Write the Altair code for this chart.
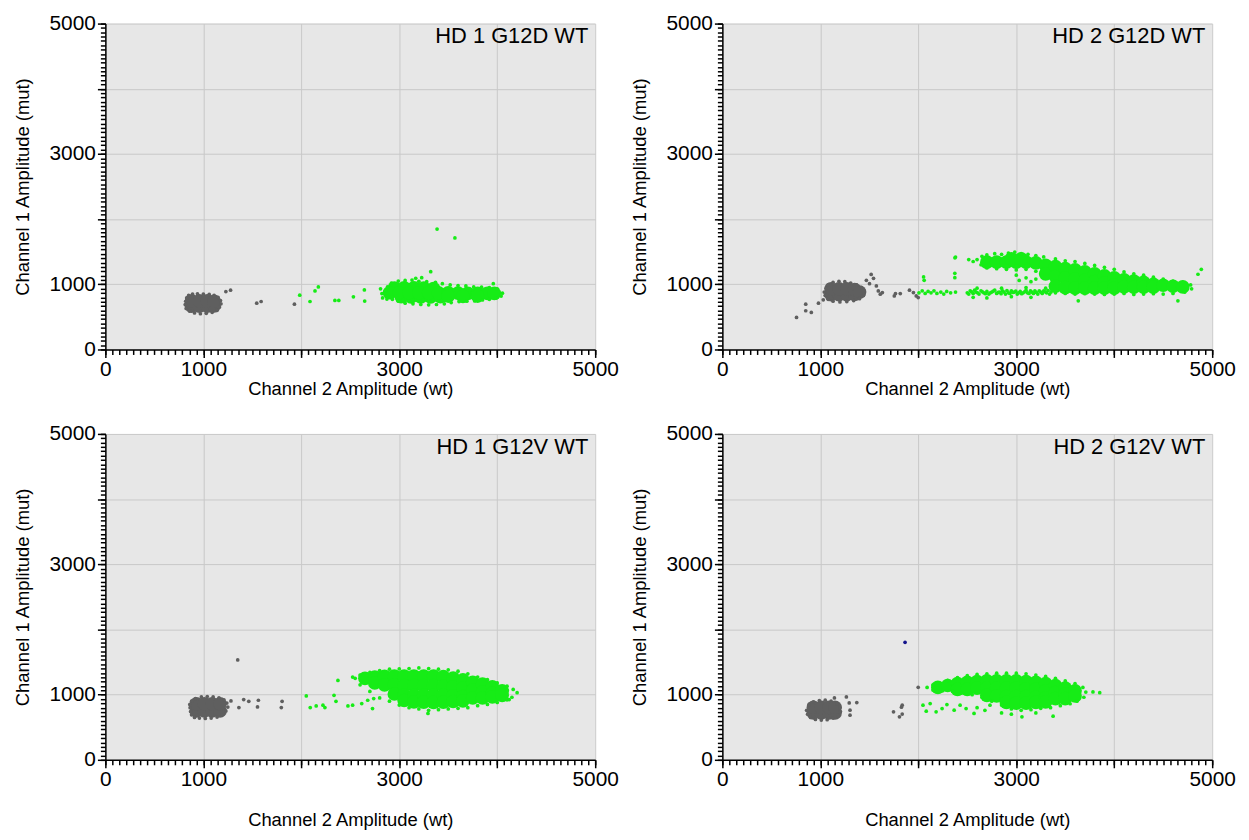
import altair as alt
import pandas as pd

FONT = "Liberation Sans"
TICK_VALUES = [0, 1000, 2000, 3000, 4000, 5000]
TICK_LABELS = [0, 1000, 3000, 5000]
X_MINOR = [round(i * 1000 / 14, 2) for i in range(71)]
Y_MINOR = [round(i * 1000 / 15, 2) for i in range(76)]

TITLES = ["HD 1 G12D WT", "HD 2 G12D WT", "HD 1 G12V WT", "HD 2 G12V WT"]
X_TITLE = "Channel 2 Amplitude (wt)"
Y_TITLE = "Channel 1 Amplitude (mut)"

# ---------------- Panel 1: HD 1 G12D WT ----------------
P1_GRAY_CORE = [(880, 665), (960, 665), (1040, 665), (1110, 670),
                (880, 745), (960, 745), (1040, 745), (1110, 740)]
P1_GRAY_DOTS = [(815, 690), (820, 740), (830, 790), (850, 830), (890, 850), (940, 855), (1000, 850),
                (1060, 845), (1110, 830), (1150, 800), (1175, 750), (1180, 700), (1165, 650), (1140, 600),
                (1090, 570), (1030, 555), (970, 548), (910, 560), (860, 590), (825, 630),
                (1230, 888), (1278, 909), (1545, 711), (1590, 736), (1930, 695)]
P1_GREEN_CORE = [(2950, 940), (3050, 945), (3150, 945), (3250, 940), (3350, 935),
                 (3020, 810), (3120, 805), (3220, 805), (3320, 805), (3420, 810),
                 (2900, 870), (3000, 870), (3100, 870), (3200, 870), (3300, 870), (3400, 870),
                 (3500, 870), (3600, 865), (3700, 860), (3800, 860), (3900, 860), (3970, 860),
                 (3500, 820), (3650, 815), (3800, 820)]
P1_GREEN_DOTS = [(2860, 900), (2880, 960), (2920, 1020), (2990, 1050), (3060, 1060), (3130, 1065),
                 (3200, 1045), (3280, 1040), (3370, 1030), (3440, 1010), (3520, 990), (3600, 980),
                 (3680, 975), (3760, 960), (3840, 955), (3920, 950), (3960, 1010), (4000, 930),
                 (4053, 863), (4040, 820), (3990, 790), (3920, 770), (3850, 760), (3770, 745),
                 (3690, 740), (3610, 735), (3530, 720), (3460, 700), (3380, 690), (3300, 685),
                 (3220, 690), (3140, 700), (3060, 710), (2990, 740), (2930, 770), (2880, 820), (2850, 860),
                 (1984, 833), (2089, 736), (2140, 899), (2174, 960), (2343, 752), (2383, 752),
                 (2532, 808), (2644, 914), (2647, 742), (2809, 930), (2823, 858), (2830, 790),
                 (2874, 773), (3168, 1093), (3229, 1102), (3321, 1193), (3386, 1848), (3568, 1711)]
P1_BLUE_DOTS = []

# ---------------- Panel 2: HD 2 G12D WT ----------------
P2_GRAY_CORE = [(1110, 840), (1190, 840), (1270, 840), (1350, 845),
                (1110, 930), (1190, 930), (1270, 930), (1350, 920), (1400, 880)]
P2_GRAY_DOTS = [(1040, 880), (1050, 830), (1060, 940), (1080, 990), (1130, 1030), (1190, 1045),
                (1250, 1040), (1310, 1020), (1370, 990), (1420, 950), (1450, 898), (1440, 830),
                (1400, 780), (1340, 750), (1270, 735), (1200, 730), (1130, 740), (1080, 770),
                (757, 492), (851, 695), (851, 594), (908, 569), (981, 711), (1030, 761), (1055, 832),
                (1470, 1061), (1519, 1152), (1543, 1091), (1502, 1010), (1572, 975), (1592, 898),
                (1612, 848), (1633, 873), (1755, 822), (1767, 858), (1816, 858), (1910, 909),
                (1950, 873), (1979, 822), (1999, 797)]
P2_GREEN_CORE = [(2700, 1340), (2800, 1340), (2900, 1340), (3000, 1340), (3100, 1340), (3200, 1330),
                 (2950, 1390), (3050, 1390),
                 (3300, 1290), (3300, 1160),
                 (3400, 1270), (3400, 1120), (3400, 970),
                 (3500, 1240), (3500, 1100), (3500, 950),
                 (3600, 1220), (3600, 1080), (3600, 940),
                 (3700, 1190), (3700, 1060), (3700, 940),
                 (3800, 1160), (3800, 1040), (3800, 940),
                 (3900, 1130), (3900, 1020), (3900, 940),
                 (4000, 1100), (4000, 990), (4000, 940),
                 (4100, 1070), (4100, 960), (4200, 1050), (4200, 955),
                 (4300, 1030), (4300, 955), (4400, 1000), (4400, 955),
                 (4500, 985), (4600, 970), (4700, 960)]
P2_GREEN_DOTS = [(2007, 870), (2040, 900), (2070, 860), (2100, 890), (2130, 870), (2160, 900),
                 (2190, 860), (2230, 880), (2260, 850), (2290, 890), (2330, 870), (2380, 880),
                 (2500, 870), (2530, 900), (2560, 860), (2590, 880), (2620, 850), (2640, 900),
                 (2670, 870), (2700, 890), (2720, 850), (2750, 880), (2780, 910), (2800, 860),
                 (2830, 880), (2860, 900), (2890, 850), (2920, 870), (2950, 900), (2980, 880),
                 (3010, 850), (3040, 890), (3070, 870), (3100, 910), (3130, 860), (3160, 880),
                 (3190, 900), (3220, 850), (3250, 880), (3280, 900), (3310, 870), (3340, 850),
                 (2515, 850), (2545, 885), (2575, 910), (2605, 870), (2655, 885), (2685, 855),
                 (2735, 870), (2765, 895), (2815, 875), (2845, 855), (2875, 880), (2905, 905),
                 (2935, 860), (2965, 875), (2995, 895), (3025, 870), (3055, 855), (3085, 885),
                 (3115, 870), (3145, 900), (3175, 860), (3205, 875), (3235, 900), (3265, 860),
                 (3295, 885), (3325, 905), (3355, 880),
                 (2560, 800), (2700, 790), (2950, 810), (3150, 800), (2600, 940), (2850, 940),
                 (3100, 950), (3300, 940),
                 (3030, 1060), (3100, 1100), (3150, 1040), (3200, 1080), (3000, 1140),
                 (2380, 1418), (2515, 1380), (2560, 1350), (2600, 1380), (2640, 1300), (2650, 1430),
                 (2700, 1450), (2780, 1470), (2850, 1460), (2920, 1480), (2985, 1494), (3050, 1470),
                 (3120, 1460), (3200, 1440), (3280, 1420), (2700, 1250), (2800, 1240), (2900, 1230),
                 (3000, 1220), (3100, 1230), (3200, 1200),
                 (3400, 1390), (3500, 1360), (3600, 1350), (3700, 1320), (3800, 1290), (3900, 1260),
                 (4000, 1230), (4100, 1190), (4200, 1160), (4300, 1140), (4400, 1110), (4500, 1080),
                 (4600, 1050), (4700, 1030), (4780, 990), (4790, 930), (4720, 880), (4600, 860),
                 (4500, 850), (4400, 855), (4300, 850), (4200, 845), (4100, 860), (4000, 850),
                 (3900, 845), (3800, 850), (3700, 855), (3600, 850), (3500, 860), (3400, 870),
                 (4855, 1154), (4889, 1230), (4650, 747), (3633, 747), (2054, 1113), (2060, 1061),
                 (2373, 1169), (2373, 1102), (2374, 1406)]
P2_BLUE_DOTS = []

# ---------------- Panel 3: HD 1 G12V WT ----------------
P3_GRAY_CORE = [(930, 750), (1010, 750), (1090, 750), (1170, 750),
                (930, 860), (1010, 860), (1090, 860), (1170, 860)]
P3_GRAY_DOTS = [(865, 800), (870, 740), (880, 690), (910, 650), (960, 640), (1020, 635), (1080, 640),
                (1140, 655), (1190, 690), (1230, 750), (1250, 810), (1240, 870), (1210, 920),
                (1160, 950), (1100, 965), (1040, 970), (980, 965), (920, 940), (880, 900), (862, 850),
                (1351, 1533), (1282, 904), (1363, 802), (1412, 924), (1464, 898), (1562, 914),
                (1553, 812), (1804, 898), (1796, 802)]
P3_GREEN_CORE = [(2650, 1250), (2750, 1270), (2750, 1180), (2850, 1280), (2850, 1150),
                 (2950, 1285), (2950, 1150), (2950, 1010),
                 (3050, 1285), (3050, 1140), (3050, 990), (3050, 910),
                 (3150, 1285), (3150, 1140), (3150, 990), (3150, 890),
                 (3250, 1285), (3250, 1140), (3250, 990), (3250, 885),
                 (3350, 1285), (3350, 1140), (3350, 990), (3350, 880),
                 (3450, 1275), (3450, 1130), (3450, 990), (3450, 885),
                 (3550, 1255), (3550, 1120), (3550, 980), (3550, 895),
                 (3650, 1225), (3650, 1100), (3650, 970), (3650, 905),
                 (3750, 1190), (3750, 1070), (3750, 950),
                 (3850, 1160), (3850, 1040), (3850, 950),
                 (3950, 1120), (3950, 1020), (3950, 965),
                 (4050, 1060), (4050, 990)]
P3_GREEN_DOTS = [(2600, 1300), (2700, 1340), (2800, 1370), (2900, 1390), (3000, 1395), (3100, 1400),
                 (3200, 1410), (3300, 1400), (3400, 1390), (3500, 1380), (3600, 1360), (3700, 1320),
                 (3800, 1270), (3900, 1230), (4000, 1180), (4100, 1130), (4163, 1080), (4203, 1030),
                 (4150, 960), (4100, 920), (4000, 880), (3900, 850), (3800, 830), (3700, 800),
                 (3600, 790), (3500, 780), (3400, 770), (3300, 760), (3200, 780), (3100, 800),
                 (3000, 840), (2900, 900), (2800, 950), (2700, 1050), (2600, 1150), (2550, 1250),
                 (2051, 980), (2091, 802), (2152, 827), (2221, 838), (2241, 802), (2334, 990),
                 (2354, 898), (2374, 1218), (2476, 827), (2524, 838), (2617, 863), (2678, 914),
                 (2727, 787), (2739, 939), (3293, 711), (4122, 924), (4102, 1066), (2524, 1270)]
P3_BLUE_DOTS = []

# ---------------- Panel 4: HD 2 G12V WT ----------------
P4_GRAY_CORE = [(930, 720), (1010, 720), (1090, 720), (1150, 720),
                (930, 805), (1010, 805), (1090, 805), (1150, 805)]
P4_GRAY_DOTS = [(860, 760), (870, 700), (900, 650), (950, 620), (1010, 610), (1070, 615), (1130, 640),
                (1180, 680), (1205, 740), (1200, 800), (1170, 860), (1110, 900), (1050, 915),
                (990, 910), (930, 890), (885, 850),
                (1144, 949), (1266, 965), (1295, 873), (1372, 878), (1303, 761), (1303, 685),
                (1747, 736), (1808, 660), (1836, 701), (1828, 807), (1836, 838), (1999, 1112)]
P4_GREEN_CORE = [(2200, 1110), (2300, 1140), (2400, 1170), (2400, 1080), (2500, 1190), (2500, 1080),
                 (2600, 1200), (2600, 1100), (2700, 1210), (2700, 1100), (2700, 990),
                 (2800, 1210), (2800, 1100), (2800, 980),
                 (2900, 1210), (2900, 1100), (2900, 970), (2900, 880),
                 (3000, 1210), (3000, 1100), (3000, 970), (3000, 870),
                 (3100, 1200), (3100, 1090), (3100, 970), (3100, 870),
                 (3200, 1190), (3200, 1080), (3200, 960), (3200, 880),
                 (3300, 1170), (3300, 1060), (3300, 950), (3300, 890),
                 (3400, 1140), (3400, 1030), (3400, 940),
                 (3500, 1100), (3500, 1010), (3500, 940),
                 (3600, 1060), (3600, 980)]
P4_GREEN_DOTS = [(2090, 1110), (2150, 1150), (2200, 1180), (2300, 1220), (2400, 1260), (2500, 1290),
                 (2600, 1310), (2700, 1320), (2800, 1330), (2900, 1330), (3000, 1330), (3100, 1320),
                 (3200, 1300), (3300, 1280), (3400, 1250), (3500, 1210), (3600, 1170), (3680, 1110),
                 (3710, 1040), (3690, 960), (3620, 900), (3550, 860), (3450, 830), (3350, 800),
                 (3250, 790), (3150, 770), (3050, 760), (2950, 780), (2850, 840), (2750, 900),
                 (2650, 960), (2550, 1000), (2450, 1030), (2350, 1050), (2250, 1060), (2150, 1070),
                 (3783, 1041), (3852, 1030), (2048, 838), (2081, 746), (2121, 863), (2182, 736),
                 (2243, 787), (2292, 848), (2366, 761), (2427, 838), (2488, 787), (2569, 711),
                 (3058, 660), (3376, 670), (2732, 838), (2600, 800), (2680, 760), (2850, 720),
                 (2950, 700), (3200, 720)]
P4_BLUE_DOTS = [(1865, 1802)]

PANELS = [
    (P1_GRAY_CORE, P1_GRAY_DOTS, P1_GREEN_CORE, P1_GREEN_DOTS, P1_BLUE_DOTS),
    (P2_GRAY_CORE, P2_GRAY_DOTS, P2_GREEN_CORE, P2_GREEN_DOTS, P2_BLUE_DOTS),
    (P3_GRAY_CORE, P3_GRAY_DOTS, P3_GREEN_CORE, P3_GREEN_DOTS, P3_BLUE_DOTS),
    (P4_GRAY_CORE, P4_GRAY_DOTS, P4_GREEN_CORE, P4_GREEN_DOTS, P4_BLUE_DOTS),
]

COLOR_SCALE = alt.Scale(domain=["gray", "green", "blue"], range=["#5f5f5f", "#16ec16", "#14148c"])
label_test = "||".join(f"datum.value=={v}" for v in TICK_LABELS)


def frame(groups):
    rows = []
    for name, pts in groups:
        for x, y in pts:
            rows.append({"x": x, "y": y, "grp": name})
    return pd.DataFrame(rows, columns=["x", "y", "grp"])


def panel(title, gray_core, gray_dots, green_core, green_dots, blue_dots, x_title_pad):
    sx = alt.Scale(domain=[0, 5000], nice=False, zero=False)
    sy = alt.Scale(domain=[0, 5000], nice=False, zero=False)
    major_x = alt.Axis(values=TICK_VALUES, labelExpr=f"({label_test})?datum.label:''", format="d",
                       title=X_TITLE, orient="bottom", grid=True, tickSize=8,
                       labelPadding=1, titlePadding=x_title_pad)
    major_y = alt.Axis(values=TICK_VALUES, labelExpr=f"({label_test})?datum.label:''", format="d",
                       title=Y_TITLE, orient="left", grid=True, tickSize=8,
                       labelPadding=2, titlePadding=17)
    minor_x = alt.Axis(values=X_MINOR, labels=False, title=None, orient="bottom", grid=False,
                       domain=False, tickSize=5)
    minor_y = alt.Axis(values=Y_MINOR, labels=False, title=None, orient="left", grid=False,
                       domain=False, tickSize=5)
    core_df = frame([("gray", gray_core), ("green", green_core)])
    dot_df = frame([("gray", gray_dots), ("green", green_dots), ("blue", blue_dots)])
    cores = alt.Chart(core_df).mark_circle(size=190, opacity=1).encode(
        x=alt.X("x:Q", scale=sx, axis=major_x),
        y=alt.Y("y:Q", scale=sy, axis=major_y),
        color=alt.Color("grp:N", scale=COLOR_SCALE, legend=None),
    )
    dots = alt.Chart(dot_df).mark_circle(size=14, opacity=1).encode(
        x=alt.X("x:Q", scale=sx, axis=minor_x),
        y=alt.Y("y:Q", scale=sy, axis=minor_y),
        color=alt.Color("grp:N", scale=COLOR_SCALE, legend=None),
    )
    label = alt.Chart(pd.DataFrame({"t": [title]})).mark_text(
        align="right", baseline="middle", fontSize=22, font=FONT, color="black"
    ).encode(x=alt.value(486), y=alt.value(13), text="t:N")
    return alt.layer(cores, dots, label).resolve_axis(x="independent", y="independent").properties(
        width=493, height=328)


TITLE_PADS = [0, 0, 21, 21]
charts = [panel(TITLES[i], *PANELS[i], TITLE_PADS[i]) for i in range(4)]
chart = alt.vconcat(
    alt.hconcat(charts[0], charts[1], spacing=11),
    alt.hconcat(charts[2], charts[3], spacing=11),
    spacing=25,
).configure_view(fill="#e7e7e7", stroke=None).configure_axis(
    labelFont=FONT, titleFont=FONT, labelFontSize=21, titleFontSize=18.5, titleFontWeight="normal",
    labelColor="black", titleColor="black", domainColor="black", tickColor="black",
    domainWidth=1.5, tickWidth=1.5, gridColor="#c9c9c9", gridWidth=1, labelFlush=False,
).properties(background="white", padding={"left": 5, "top": 2, "right": 5, "bottom": 5})

chart.save("out.html", embed_options={"renderer": "svg", "actions": False})
